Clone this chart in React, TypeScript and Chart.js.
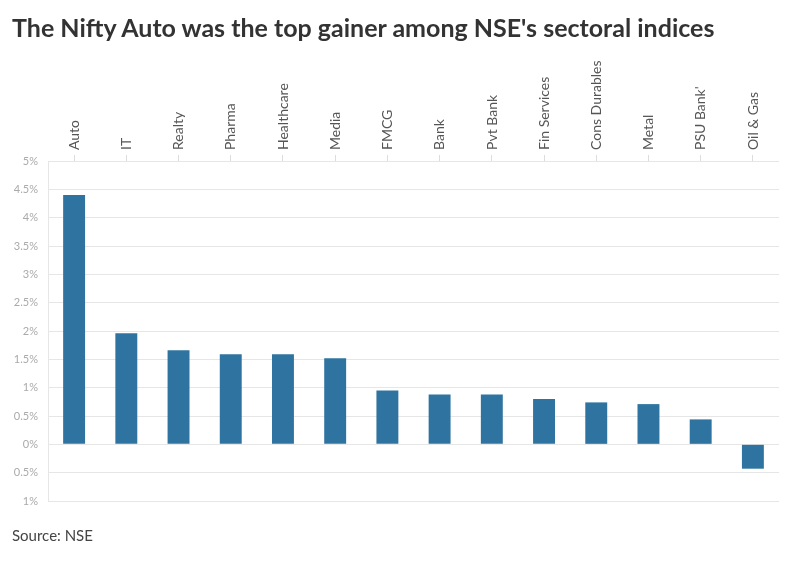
import React, { useEffect, useRef } from "react";
import { Chart, registerables } from "chart.js";

Chart.register(...registerables);

const categories = [
  "Auto", "IT", "Realty", "Pharma", "Healthcare", "Media", "FMCG", "Bank",
  "Pvt Bank", "Fin Services", "Cons Durables", "Metal", "PSU Bank'", "Oil & Gas",
];
const changePct = [4.4, 1.96, 1.66, 1.59, 1.59, 1.52, 0.95, 0.88, 0.88, 0.8, 0.74, 0.71, 0.44, -0.43];
const yMin = -1;
const yMax = 5;
const yStep = 0.5;

const FONT = "Lato, 'Noto Sans', sans-serif";

export default function App() {
  const ref = useRef<HTMLCanvasElement | null>(null);

  useEffect(() => {
    document.body.style.margin = "0";
    const canvas = ref.current;
    if (!canvas) return;
    const chart = new Chart(canvas, {
      type: "bar",
      data: {
        labels: categories,
        datasets: [
          {
            data: changePct,
            backgroundColor: "#2f74a0",
            borderWidth: 0,
            barPercentage: 0.42,
            categoryPercentage: 1,
          },
        ],
      },
      options: {
        animation: false,
        responsive: false,
        maintainAspectRatio: false,
        layout: { padding: { left: 0, right: 17, top: 0, bottom: 74 } },
        plugins: { legend: { display: false }, tooltip: { enabled: false } },
        scales: {
          x: {
            position: "top",
            offset: true,
            grid: {
              offset: false,
              drawOnChartArea: false,
              drawTicks: true,
              tickLength: 6,
              color: "#dddddd",
            },
            border: { display: false },
            ticks: {
              autoSkip: false,
              minRotation: 90,
              maxRotation: 90,
              padding: 5,
              labelOffset: 17,
              color: "#555555",
              font: { family: FONT, size: 14 },
            },
            afterFit: (s: any) => {
              s.height = 161;
            },
          },
          y: {
            min: yMin,
            max: yMax,
            grid: { color: "#e6e6e6", drawTicks: false },
            border: { display: true, color: "#e6e6e6" },
            ticks: {
              stepSize: yStep,
              padding: 10,
              color: "#aaaaaa",
              font: { family: FONT, size: 11 },
              callback: (v: any) => `${Math.abs(Number(v))}%`,
            },
            afterFit: (s: any) => {
              s.width = 48;
            },
          },
        },
      },
    });
    return () => chart.destroy();
  }, []);

  return (
    <div style={{ position: "relative", width: 796, height: 575, background: "#fff", fontFamily: FONT }}>
      <canvas ref={ref} width={796} height={575} style={{ position: "absolute", left: 0, top: 0 }} />
      <div
        style={{
          position: "absolute",
          left: 12,
          top: 12,
          fontSize: 25,
          lineHeight: "30px",
          fontWeight: 700,
          color: "#333",
          whiteSpace: "nowrap",
        }}
      >
        The Nifty Auto was the top gainer among NSE's sectoral indices
      </div>
      <div style={{ position: "absolute", left: 12, top: 526, fontSize: 15, color: "#444" }}>
        Source: NSE
      </div>
    </div>
  );
}
